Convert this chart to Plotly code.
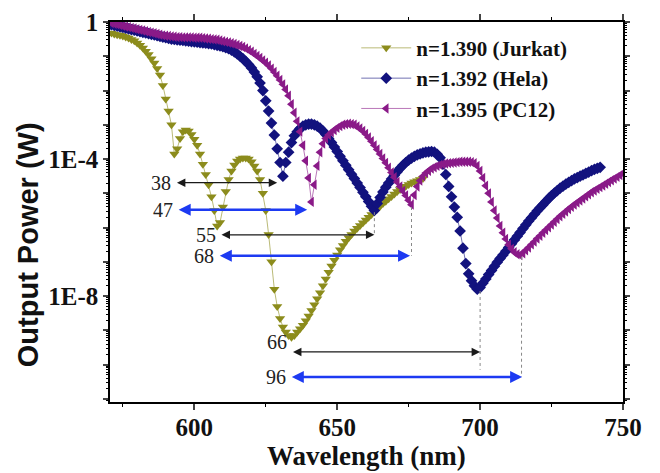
import plotly.graph_objects as go

# ---------------- data (log10 of output power in W) ----------------
wl_jurkat = list(range(571, 681))
logp_jurkat = [
    -0.32, -0.35, -0.37, -0.39, -0.41, -0.44, -0.47, -0.51, -0.55, -0.61,
    -0.68, -0.76, -0.85, -0.95, -1.07, -1.20, -1.36, -1.55, -1.85, -2.25,
    -2.60, -3.00, -3.85, -3.70, -3.40, -3.20, -3.15, -3.18, -3.28, -3.42,
    -3.60, -3.85, -4.15, -4.45, -4.75, -5.10, -5.50, -5.95, -5.85, -5.40,
    -4.95, -4.60, -4.35, -4.17, -4.06, -4.00, -3.97, -3.97, -4.00, -4.08,
    -4.20, -4.35, -4.60, -5.00, -5.50, -6.20, -7.00, -7.80, -8.30, -8.65,
    -8.90, -9.05, -9.15, -9.20, -9.15, -9.05, -8.95, -8.85, -8.72, -8.58,
    -8.42, -8.25, -8.08, -7.90, -7.70, -7.50, -7.30, -7.12, -6.95, -6.80,
    -6.65, -6.52, -6.40, -6.30, -6.20, -6.10, -6.02, -5.94, -5.86, -5.78,
    -5.70, -5.62, -5.54, -5.46, -5.38, -5.30, -5.23, -5.16, -5.09, -5.02,
    -4.95, -4.89, -4.84, -4.79, -4.74, -4.70, -4.66, -4.63, -4.60, -4.57,
]

wl_hela = list(range(571, 743))
logp_hela = [
    -0.08, -0.10, -0.12, -0.14, -0.16, -0.18, -0.20, -0.22, -0.24, -0.26,
    -0.28, -0.30, -0.32, -0.34, -0.36, -0.38, -0.40, -0.42, -0.44, -0.46,
    -0.48, -0.50, -0.51, -0.52, -0.53, -0.54, -0.55, -0.56, -0.57, -0.58,
    -0.59, -0.60, -0.61, -0.62, -0.63, -0.64, -0.66, -0.68, -0.70, -0.72,
    -0.75, -0.78, -0.82, -0.87, -0.93, -1.00, -1.07, -1.15, -1.24, -1.34,
    -1.46, -1.60, -1.78, -2.00, -2.30, -2.60, -2.95, -3.30, -3.70, -4.10,
    -4.50, -4.10, -3.80, -3.52, -3.32, -3.20, -3.11, -3.04, -3.00, -2.98,
    -2.98, -3.00, -3.04, -3.10, -3.18, -3.28, -3.40, -3.52, -3.65, -3.78,
    -3.92, -4.05, -4.18, -4.31, -4.44, -4.57, -4.70, -4.83, -4.97, -5.10,
    -5.24, -5.38, -5.50, -5.30, -5.12, -4.96, -4.82, -4.70, -4.58, -4.47,
    -4.37, -4.27, -4.18, -4.10, -4.03, -3.97, -3.92, -3.88, -3.85, -3.82,
    -3.80, -3.79, -3.78, -3.80, -3.86, -3.96, -4.15, -4.45, -4.80, -5.10,
    -5.40, -5.70, -6.10, -6.60, -7.05, -7.35, -7.55, -7.70, -7.80, -7.75,
    -7.62, -7.50, -7.37, -7.25, -7.13, -7.01, -6.90, -6.80, -6.69, -6.58,
    -6.47, -6.36, -6.25, -6.14, -6.03, -5.92, -5.81, -5.71, -5.61, -5.51,
    -5.42, -5.33, -5.24, -5.15, -5.07, -4.99, -4.92, -4.85, -4.79, -4.73,
    -4.68, -4.63, -4.58, -4.54, -4.50, -4.46, -4.42, -4.38, -4.34, -4.30,
    -4.27, -4.24,
]

wl_pc12 = list(range(571, 751))
logp_pc12 = [
    -0.03, -0.05, -0.07, -0.09, -0.11, -0.13, -0.15, -0.17, -0.19, -0.21,
    -0.23, -0.25, -0.27, -0.29, -0.31, -0.33, -0.35, -0.37, -0.39, -0.40,
    -0.41, -0.42, -0.43, -0.44, -0.44, -0.45, -0.45, -0.45, -0.45, -0.46,
    -0.46, -0.46, -0.47, -0.48, -0.49, -0.50, -0.51, -0.52, -0.54, -0.56,
    -0.58, -0.60, -0.62, -0.64, -0.67, -0.70, -0.73, -0.77, -0.82, -0.87,
    -0.93, -0.99, -1.05, -1.12, -1.19, -1.27, -1.36, -1.46, -1.57, -1.69,
    -1.82, -1.97, -2.15, -2.40, -2.65, -2.90, -3.20, -3.60, -4.05, -4.55,
    -5.25, -4.75, -4.20, -3.80, -3.55, -3.40, -3.30, -3.22, -3.15, -3.09,
    -3.04, -3.00, -2.98, -2.97, -2.98, -3.00, -3.05, -3.11, -3.18, -3.27,
    -3.37, -3.48, -3.60, -3.72, -3.85, -3.98, -4.11, -4.25, -4.39, -4.53,
    -4.67, -4.80, -4.93, -5.06, -5.20, -5.33, -5.05, -4.80, -4.63, -4.50,
    -4.41, -4.34, -4.28, -4.24, -4.20, -4.17, -4.15, -4.13, -4.12, -4.11,
    -4.10, -4.09, -4.08, -4.08, -4.08, -4.08, -4.09, -4.12, -4.20, -4.35,
    -4.55, -4.78, -5.00, -5.25, -5.50, -5.72, -5.95, -6.15, -6.33, -6.50,
    -6.62, -6.72, -6.78, -6.80, -6.75, -6.66, -6.58, -6.49, -6.41, -6.32,
    -6.24, -6.15, -6.07, -5.99, -5.91, -5.83, -5.75, -5.67, -5.60, -5.53,
    -5.46, -5.39, -5.33, -5.27, -5.21, -5.15, -5.09, -5.03, -4.97, -4.92,
    -4.87, -4.82, -4.77, -4.72, -4.67, -4.62, -4.57, -4.52, -4.47, -4.42,
]

series_names = ["n=1.390 (Jurkat)", "n=1.392 (Hela)", "n=1.395 (PC12)"]

# shift annotations (nm) : label, start, end, log10 level
shift_labels = ["38", "47", "55", "68", "66", "96"]
shift_start = [593.4, 594.0, 609.0, 608.4, 634.0, 633.6]
shift_end = [629.0, 639.5, 663.0, 675.5, 700.0, 714.7]
shift_level = [-4.69, -5.48, -6.21, -6.82, -9.63, -10.36]
label_dy = [0, 0, 0, 0, 10, 0]   # "66" sits slightly above its arrow

# dotted guides from resonance minima (nm, log10 top, log10 bottom)
guide_x = [663.0, 676.0, 700.0, 714.5]
guide_top = [-5.55, -5.40, -7.85, -6.85]
guide_bottom = [-6.21, -6.82, -10.15, -10.36]

x_ticks = [600, 650, 700, 750]
x_minor = [575, 625, 675, 725]
y_label_exps = [0, -4, -8]
y_label_text = ["1", "1E-4", "1E-8"]

# ---------------- figure ----------------
colors = ["#8c8c1c", "#12127e", "#8a1a88"]
line_colors = ["rgba(140,140,28,0.6)", "rgba(18,18,126,0.6)", "rgba(138,26,136,0.6)"]
symbols = ["triangle-down", "diamond", "triangle-left"]
xs = [wl_jurkat, wl_hela, wl_pc12]
ys = [logp_jurkat, logp_hela, logp_pc12]

fig = go.Figure()
for i in range(3):
    fig.add_trace(go.Scatter(
        x=xs[i], y=[10 ** v for v in ys[i]], name=series_names[i],
        mode="lines+markers",
        line=dict(color=line_colors[i], width=1),
        marker=dict(symbol=symbols[i], size=9, color=colors[i], line=dict(width=0)),
    ))

for gx, gt, gb in zip(guide_x, guide_top, guide_bottom):
    fig.add_trace(go.Scatter(
        x=[gx, gx], y=[10 ** gt, 10 ** gb], mode="lines", showlegend=False,
        line=dict(color="#888888", width=1, dash="dot"), hoverinfo="skip",
    ))

annotations = []
for k, (lab, s, e, lv, dy) in enumerate(zip(shift_labels, shift_start, shift_end,
                                             shift_level, label_dy)):
    blue = k % 2 == 1
    col = "#1d3af2" if blue else "#1a1a1a"
    annotations.append(dict(
        x=e, y=lv, ax=s, ay=lv, xref="x", yref="y", axref="x", ayref="y",
        text="", showarrow=True, arrowhead=2, startarrowhead=2, arrowside="end+start",
        arrowsize=1.0 if blue else 1.3, startarrowsize=1.0 if blue else 1.3,
        arrowwidth=2.4 if blue else 1.3, arrowcolor=col,
    ))
    annotations.append(dict(
        x=s, y=lv, xref="x", yref="y", text=lab, showarrow=False,
        xanchor="right", yanchor="middle", xshift=-2, yshift=dy,
        font=dict(family="Liberation Serif", size=20, color="#222222"),
    ))

annotations.append(dict(
    x=-0.16, y=0.415, xref="paper", yref="paper", text="Output Power (W)",
    textangle=-90, showarrow=False, xanchor="center", yanchor="middle",
    font=dict(family="Liberation Sans", size=29, color="#111111", weight="bold"),
))
annotations.append(dict(
    x=0.5, y=-0.143, xref="paper", yref="paper", text="Wavelength (nm)",
    showarrow=False, xanchor="center", yanchor="middle",
    font=dict(family="Liberation Serif", size=27, color="#111111", weight="bold"),
))

y_major = [10.0 ** e for e in range(0, -12, -1)]
y_major_text = [y_label_text[y_label_exps.index(e)] if e in y_label_exps else ""
                for e in range(0, -12, -1)]
y_minor = [m * 10.0 ** e for e in range(-12, 0) for m in range(2, 10)]

fig.update_layout(
    width=660, height=473,
    margin=dict(l=102, r=45, t=14, b=79),
    paper_bgcolor="white", plot_bgcolor="white",
    showlegend=True,
    legend=dict(
        x=0.48, y=0.985, xanchor="left", yanchor="top",
        bgcolor="rgba(0,0,0,0)", borderwidth=0,
        font=dict(family="Liberation Serif", size=21, color="#111111", weight="bold"),
        itemwidth=50, tracegroupgap=0,
    ),
    annotations=annotations,
    xaxis=dict(
        range=[570.5, 750], tickvals=x_ticks, ticks="outside", ticklen=6, tickwidth=1.5,
        showline=True, linecolor="black", linewidth=1.5, mirror="ticks",
        showgrid=False, zeroline=False, automargin=False, ticklabelstandoff=-4,
        tickfont=dict(family="Liberation Serif", size=25, color="#111111", weight="bold"),
        minor=dict(tickvals=x_minor, ticks="outside", ticklen=3, tickwidth=1.2, tickcolor="black"),
    ),
    yaxis=dict(
        type="log", range=[-11.09, 0.0],
        tickvals=y_major, ticktext=y_major_text, ticks="outside", ticklen=5, tickwidth=1.5,
        showline=True, linecolor="black", linewidth=1.5, mirror="ticks",
        showgrid=False, zeroline=False, automargin=False,
        tickfont=dict(family="Liberation Serif", size=25, color="#111111", weight="bold"),
        minor=dict(tickvals=y_minor, ticks="outside", ticklen=2.5, tickwidth=1, tickcolor="black"),
    ),
)

fig.write_html("out.html")
